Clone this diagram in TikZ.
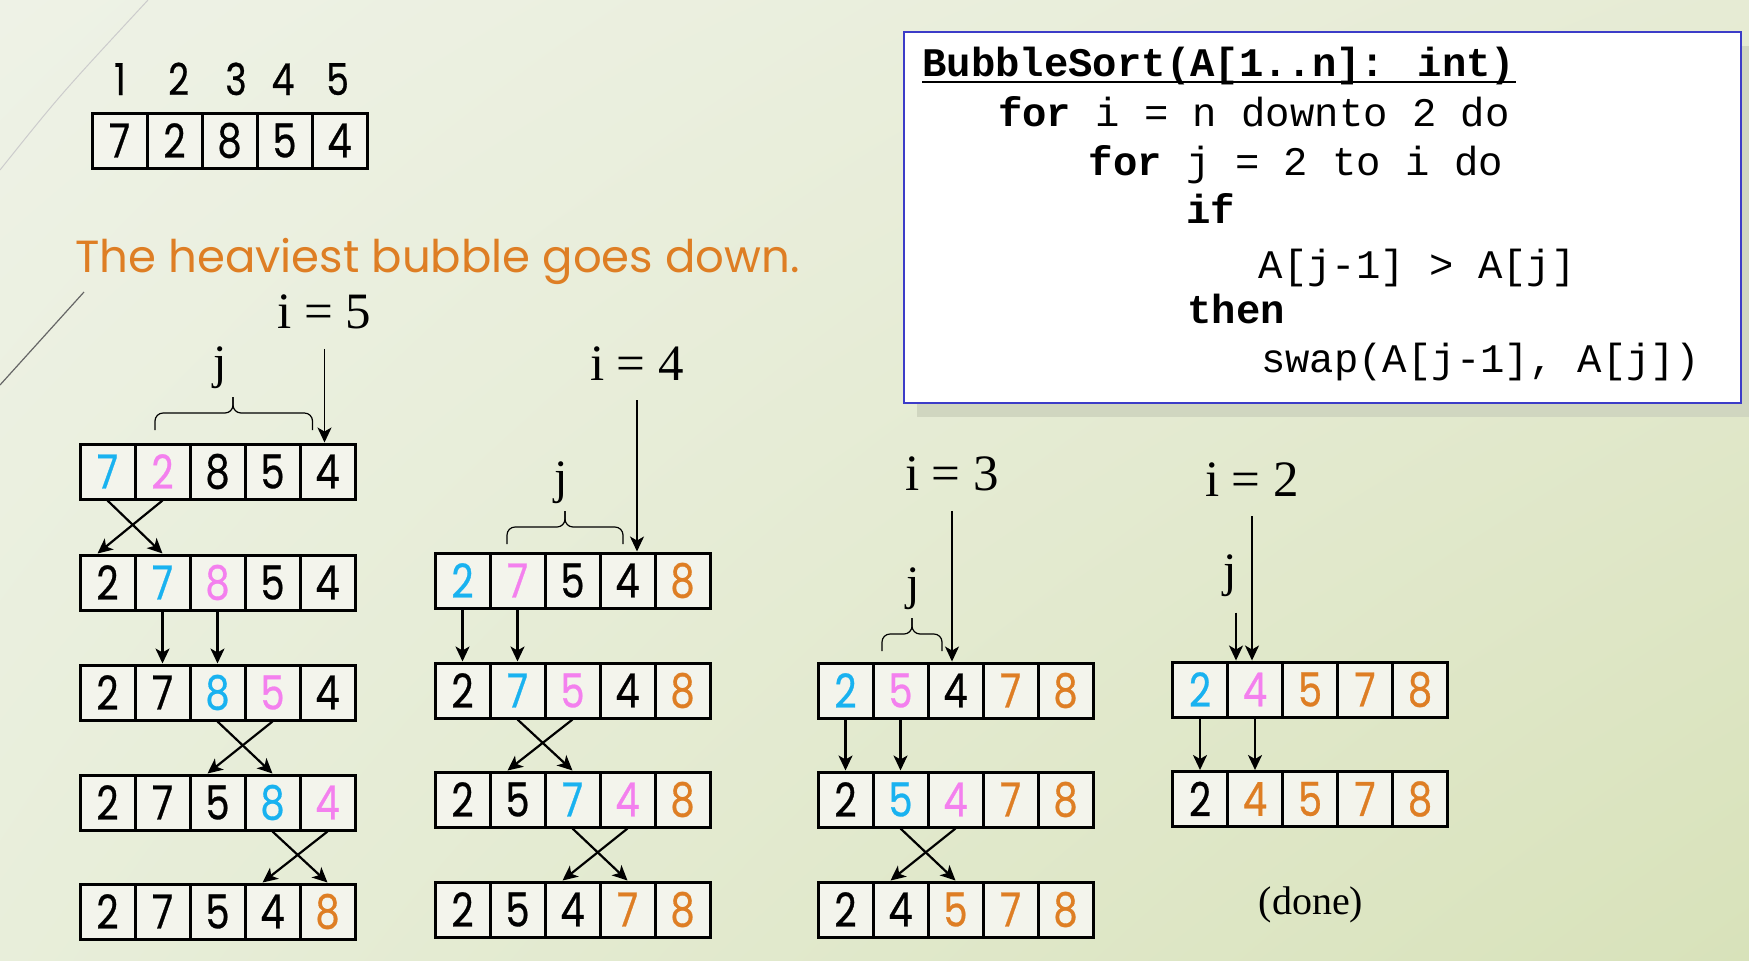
\documentclass[tikz,border=0pt]{standalone}
\usepackage{fontspec}
\usetikzlibrary{arrows.meta,shadings}
\newfontfamily\digitfont[FakeStretch=0.82,FakeBold=0.6]{Poppins}
\newfontfamily\titlefont{Poppins}
\newfontfamily\codefont{Liberation Mono}
\newfontfamily\labfont{Liberation Serif}
\definecolor{cy}{RGB}{25,178,240}
\definecolor{pk}{RGB}{243,128,238}
\definecolor{og}{RGB}{222,126,36}
\definecolor{bk}{RGB}{0,0,0}
\definecolor{cellbg}{RGB}{243,244,236}
\definecolor{boxblue}{RGB}{60,60,200}
\definecolor{shadowc}{RGB}{208,214,192}
\definecolor{bgul}{RGB}{238,242,230}
\definecolor{bgur}{RGB}{230,235,212}
\definecolor{bgll}{RGB}{232,238,218}
\definecolor{bglr}{RGB}{216,226,186}

\tikzset{
  cell/.style={draw, line width=1.5pt, fill=cellbg, minimum width=27.5pt, minimum height=27.5pt,
    inner sep=0pt, font=\digitfont\fontsize{23.5}{23.5}\selectfont},
  idx/.style={anchor=base, inner sep=0pt, font=\digitfont\fontsize{22}{22}\selectfont},
  lab/.style={anchor=base, inner sep=0pt, font=\labfont\fontsize{25.5}{25.5}\selectfont},
  code/.style={anchor=base west, inner sep=0pt, font=\codefont\fontsize{20.3}{24}\selectfont},
  swaparrow/.style={->, line width=1.1pt},
  iarrow/.style={->, line width=0.8pt},
  jbrace/.style={line width=0.6pt, rounded corners=4pt},
}

% one array of five cells: name, left x, top y, digit/colour list
\newcommand{\cellrow}[4]{%
  \foreach \v/\c [count=\k] in {#4}
    \node[cell, text=\c] (#1-\k) at ({#2+(\k-0.5)*55},{#3+27.5}) {\v};}
% bracket over the j range: left x, tip x, right x, bottom y
\newcommand{\jbracket}[4]{%
  \draw[jbrace] (#1,#4) -- (#1,#4-17) -- (#2,#4-17) -- (#2,#4-33);
  \draw[jbrace] (#3,#4) -- (#3,#4-17) -- (#2,#4-17) -- (#2,#4-33);}

\begin{document}
\begin{tikzpicture}[x=0.5pt, y=-0.5pt, >={Stealth[length=7.5pt, width=7pt, inset=2pt]}]

\useasboundingbox (0,0) rectangle (1749,960);
\shade[upper left=bgul, upper right=bgur, lower left=bgll, lower right=bglr] (0,0) rectangle (1749,960);%background
\draw[line width=0.5pt, gray!40] (0,170) .. controls (60,95) .. (148,0);%slide decoration
\draw[line width=0.6pt, gray!80!black] (0,385) -- (84,292);

%start array
\foreach \x [count=\k] in {120,178.6,236,283,337.6}
  \node[idx] (idx\k) at (\x,95) {\k};
\cellrow{top}{92}{113}{7/bk,2/bk,8/bk,5/bk,4/bk}

\node[anchor=base west, inner sep=0pt, text=og, font=\titlefont\fontsize{22.5}{22.5}\selectfont] (title) at (75,272) {The heaviest bubble goes down.};

%pseudo code box
\fill[shadowc] (917,46) rectangle (1760,417);
\draw[boxblue, fill=white, line width=1pt] (904,32) rectangle (1741,403);
\node[code] (code1) at (922,76.7) {\bfseries BubbleSort(A[1..n]: int)};
\draw[line width=1pt] ([yshift=-2.5pt]code1.base west) -- ([yshift=-2.5pt]code1.base east);
\node[code] (code2) at (997.6,126.7) {\textbf{for} i = n downto 2 do};
\node[code] (code3) at (1088.5,175) {\textbf{for} j = 2 to i do};
\node[code] (code4) at (1186,223) {\textbf{if}};
\node[code] (code5) at (1258.5,278) {A[j-1] > A[j]};
\node[code] (code6) at (1187,323) {\textbf{then}};
\node[code] (code7) at (1260.7,372) {swap(A[j-1], A[j])};

%i = 5
\cellrow{a1}{80}{444}{7/cy,2/pk,8/bk,5/bk,4/bk}
\cellrow{a2}{80}{555}{2/bk,7/cy,8/pk,5/bk,4/bk}
\cellrow{a3}{80}{665}{2/bk,7/bk,8/cy,5/pk,4/bk}
\cellrow{a4}{80}{775}{2/bk,7/bk,5/bk,8/cy,4/pk}
\cellrow{a5}{80}{884}{2/bk,7/bk,5/bk,4/bk,8/og}
%i = 4
\cellrow{b1}{435}{553}{2/cy,7/pk,5/bk,4/bk,8/og}
\cellrow{b2}{435}{663}{2/bk,7/cy,5/pk,4/bk,8/og}
\cellrow{b3}{435}{772}{2/bk,5/bk,7/cy,4/pk,8/og}
\cellrow{b4}{435}{882}{2/bk,5/bk,4/bk,7/og,8/og}
%i = 3
\cellrow{c1}{818}{663}{2/cy,5/pk,4/bk,7/og,8/og}
\cellrow{c2}{818}{772}{2/bk,5/cy,4/pk,7/og,8/og}
\cellrow{c3}{818}{882}{2/bk,4/bk,5/og,7/og,8/og}
%i = 2
\cellrow{d1}{1172.5}{662}{2/cy,4/pk,5/og,7/og,8/og}
\cellrow{d2}{1172.5}{771.5}{2/bk,4/og,5/og,7/og,8/og}

%swaps
\foreach \u/\l/\k/\kk in {a1/a2/1/2,a3/a4/3/4,a4/a5/4/5,b2/b3/2/3,b3/b4/3/4,c2/c3/2/3}{
  \draw[swaparrow] (\u-\k.south) -- (\l-\kk.north);
  \draw[swaparrow] (\u-\kk.south) -- ([xshift=-5pt]\l-\k.north);}
%no swap
\foreach \u/\l/\k in {a2/a3/2,a2/a3/3,b1/b2/1,b1/b2/2,c1/c2/1,c1/c2/2,d1/d2/1,d1/d2/2}
  \draw[swaparrow] (\u-\k.south) -- (\l-\k.north);

%labels i and j
\node[lab] (i5) at (324.5,328) {i = 5};
\node[lab] (i4) at (637,380) {i = 4};
\node[lab] (i3) at (952,490) {i = 3};
\node[lab] (i2) at (1252,496) {i = 2};
\draw[iarrow, shorten <=10pt] (i5.south) -- (i5.south |- a1-5.north);
\draw[iarrow, shorten <=10pt] (i4.south) -- (i4.south |- b1-4.north);
\draw[iarrow, shorten <=10pt] (i3.south) -- (i3.south |- c1-3.north);
\draw[iarrow, shorten <=10pt] (i2.south) -- (i2.south |- d1-2.north);

\node[lab, font=\labfont\fontsize{24}{24}\selectfont] (j5) at (220,378) {j};
\node[lab, font=\labfont\fontsize{24}{24}\selectfont] (j4) at (561,493) {j};
\node[lab, font=\labfont\fontsize{24}{24}\selectfont] (j3) at (913,599) {j};
\node[lab, font=\labfont\fontsize{24}{24}\selectfont] (j2) at (1230,586) {j};
\jbracket{155}{233}{312.5}{430}
\jbracket{507}{565}{623}{544}
\jbracket{882}{912}{942}{651}
\draw[iarrow, shorten <=8pt] ([xshift=3pt]j2.south) -- ([xshift=3pt]j2.south |- d1-2.north);

\node[lab, font=\labfont\fontsize{20}{20}\selectfont] (done) at (1311,914) {(done)};

\end{tikzpicture}
\end{document}
